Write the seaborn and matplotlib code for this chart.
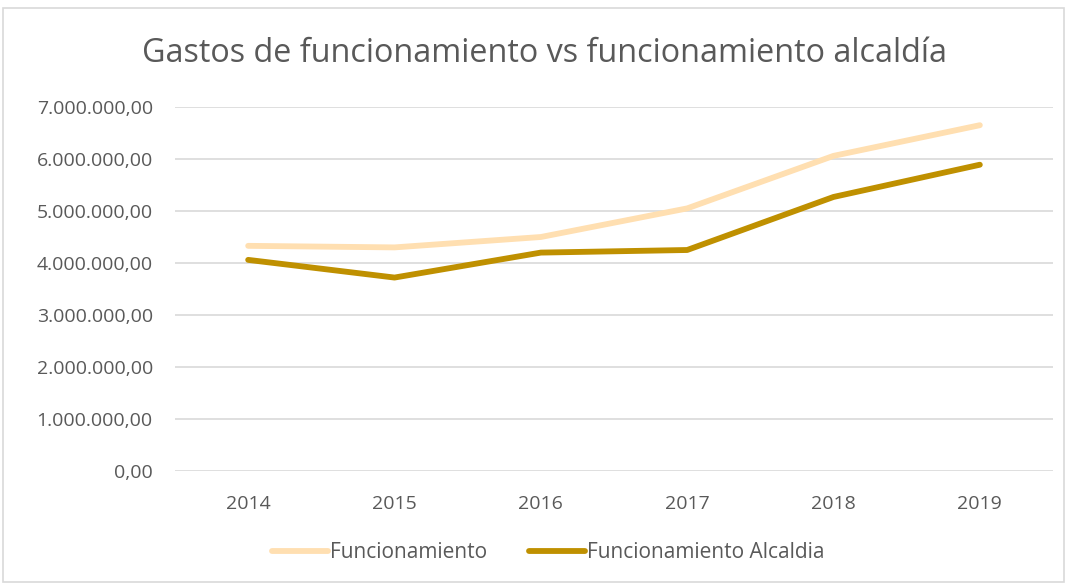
import numpy as np
import pandas as pd
import matplotlib
matplotlib.use("Agg")
import matplotlib.pyplot as plt
import seaborn as sns
from matplotlib.ticker import FuncFormatter
from matplotlib.patches import Rectangle

# --- Datos ---
anios = ["2014", "2015", "2016", "2017", "2018", "2019"]
funcionamiento = [4330000, 4300000, 4500000, 5050000, 6060000, 6650000]
funcionamiento_alcaldia = [4060000, 3720000, 4200000, 4250000, 5270000, 5890000]
series = ["Funcionamiento", "Funcionamiento Alcaldia"]
colores = ["#FFDFB1", "#BF9000"]

df = pd.DataFrame({
    "Año": anios * 2,
    "Valor": funcionamiento + funcionamiento_alcaldia,
    "Serie": [series[0]] * len(anios) + [series[1]] * len(anios),
})

sns.set_style("white")
plt.rcParams["font.family"] = ["Open Sans", "DejaVu Sans"]
gris_texto = "#595959"

fig = plt.figure(figsize=(10.71, 5.86), dpi=100)
ax = fig.add_axes([175 / 1071, 1 - 471 / 586, (1053 - 175) / 1071, (471 - 107) / 586])

sns.lineplot(data=df, x="Año", y="Valor", hue="Serie", palette=colores,
             linewidth=4.2, ax=ax, sort=False, solid_capstyle="round")

ax.set_ylim(0, 7000000)
ax.set_xlim(-0.5, len(anios) - 0.5)
ax.set_yticks(np.arange(0, 7000001, 1000000))
ax.yaxis.set_major_formatter(FuncFormatter(
    lambda v, p: f"{v:,.2f}".replace(",", "X").replace(".", ",").replace("X", ".")))
ax.grid(axis="y", color="#D9D9D9", linewidth=1.2)
ax.set_axisbelow(True)
for s in ax.spines.values():
    s.set_visible(False)
ax.tick_params(axis="both", length=0, labelsize=14, colors=gris_texto)
ax.tick_params(axis="y", pad=16)
ax.tick_params(axis="x", pad=17)
ax.set_xlabel("")
ax.set_ylabel("")

fig.text(0.508, 1 - 53 / 586, "Gastos de funcionamiento vs funcionamiento alcaldía",
         ha="center", va="center", fontsize=23.3, color=gris_texto)

handles, labels = ax.get_legend_handles_labels()
ax.legend(handles, labels, loc="center", bbox_to_anchor=(0.512, 1 - 553 / 586),
          bbox_transform=fig.transFigure, ncol=2, frameon=False, fontsize=15,
          labelcolor=gris_texto, handlelength=2.7, handletextpad=0.1, columnspacing=2.0)

fig.patches.append(Rectangle((3 / 1071, 1 - 582 / 586), 1061 / 1071, 574 / 586,
                             transform=fig.transFigure, fill=False,
                             edgecolor="#D9D9D9", linewidth=1.2))

fig.savefig("out.png", dpi=100, facecolor="white")
